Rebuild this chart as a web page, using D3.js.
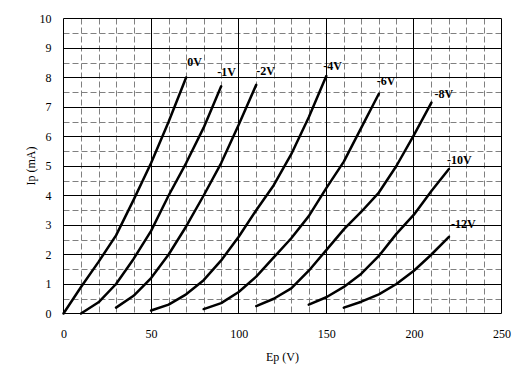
<!DOCTYPE html>
<html><head><meta charset="utf-8">
<script src="https://cdn.jsdelivr.net/npm/d3@7"></script>
<style>body{margin:0;background:#fff}svg{display:block}</style>
</head><body>
<script>
// Data
const xTicks = [0, 50, 100, 150, 200, 250];
const yTicks = [0,1,2,3,4,5,6,7,8,9,10];
const seriesNames = ["0V","-1V","-2V","-4V","-6V","-8V","-10V","-12V"];
const ep0  = [0,10,20,30,40,50,60,70];
const ip0  = [0,0.9,1.75,2.65,3.85,5.1,6.5,8.0];
const ep1  = [10,20,30,40,50,60,70,80,90];
const ip1  = [0,0.38,1.0,1.85,2.8,4.0,5.1,6.3,7.7];
const ep2  = [30,40,50,60,70,80,90,100,110];
const ip2  = [0.2,0.6,1.2,2.0,2.95,4.0,5.1,6.4,7.75];
const ep4  = [50,60,70,80,90,100,110,120,130,140,150];
const ip4  = [0.1,0.3,0.65,1.13,1.8,2.6,3.5,4.35,5.4,6.65,8.05];
const ep6  = [80,90,100,110,120,130,140,150,160,170,180];
const ip6  = [0.15,0.35,0.73,1.25,1.9,2.55,3.3,4.25,5.15,6.3,7.45];
const ep8  = [110,120,130,140,150,160,170,180,190,200,210];
const ip8  = [0.25,0.5,0.85,1.45,2.15,2.85,3.45,4.1,5.0,6.05,7.15];
const ep10 = [140,150,160,170,180,190,200,210,220];
const ip10 = [0.3,0.55,0.9,1.35,1.95,2.7,3.35,4.15,4.9];
const ep12 = [160,170,180,190,200,210,220];
const ip12 = [0.2,0.4,0.65,1.0,1.45,2.0,2.6];

const epSets = [ep0,ep1,ep2,ep4,ep6,ep8,ep10,ep12];
const ipSets = [ip0,ip1,ip2,ip4,ip6,ip8,ip10,ip12];
const series = seriesNames.map((n,i)=>({name:n, pts: epSets[i].map((e,j)=>[e, ipSets[i][j]])}));

const W = 523, H = 373;
const svg = d3.select("body").append("svg").attr("width", W).attr("height", H);
const x = d3.scaleLinear().domain([0,250]).range([63.5, 501.5]);
const y = d3.scaleLinear().domain([0,10]).range([313.5, 18.5]);

const font = "'Liberation Serif','Times New Roman',serif";

// minor dashed grid
const g = svg.append("g");
g.selectAll("line.vminor").data(d3.range(10,250,10).filter(v=>v%50!==0)).join("line")
  .attr("x1", d=>Math.round(x(d))+0.5).attr("x2", d=>Math.round(x(d))+0.5)
  .attr("y1", y(10)).attr("y2", y(0))
  .attr("stroke","#808080").attr("stroke-dasharray","6,3");
g.selectAll("line.hminor").data(d3.range(0.5,10,1)).join("line")
  .attr("y1", d=>Math.round(y(d))+0.5).attr("y2", d=>Math.round(y(d))+0.5)
  .attr("x1", x(0)).attr("x2", x(250))
  .attr("stroke","#808080").attr("stroke-dasharray","6,3");
// major solid grid
g.selectAll("line.vmajor").data(xTicks).join("line")
  .attr("x1", d=>Math.round(x(d)-0.5)+0.5).attr("x2", d=>Math.round(x(d)-0.5)+0.5)
  .attr("y1", y(10)).attr("y2", y(0)).attr("stroke","#000");
g.selectAll("line.hmajor").data(yTicks).join("line")
  .attr("y1", d=>Math.round(y(d)-0.5)+0.5).attr("y2", d=>Math.round(y(d)-0.5)+0.5)
  .attr("x1", x(0)).attr("x2", x(250)).attr("stroke","#000");

// axes (labels only)
const xAxis = svg.append("g").attr("transform", `translate(0,${y(0)})`)
  .call(d3.axisBottom(x).tickValues(xTicks).tickSize(0).tickPadding(16));
const yAxis = svg.append("g").attr("transform", `translate(${x(0)},0)`)
  .call(d3.axisLeft(y).tickValues(yTicks).tickSize(0).tickPadding(12));
[xAxis,yAxis].forEach(a=>{
  a.select(".domain").remove();
  a.selectAll("text").attr("font-family", font).attr("font-size", 12).attr("fill","#000");
});

// curves
const line = d3.line().x(d=>x(d[0])).y(d=>y(d[1]));
svg.append("g").selectAll("path").data(series).join("path")
  .attr("d", d=>line(d.pts)).attr("fill","none").attr("stroke","#000")
  .attr("stroke-width",2.5).attr("stroke-linejoin","round").attr("stroke-linecap","round");

// labels
const labelOff = [[1,-12],[-4,-10],[0,-10],[-3,-6],[-2,-9],[3,-5],[-2,-5],[2,-9]];
svg.append("g").selectAll("text").data(series).join("text")
  .attr("x", (d,i)=>x(d.pts[d.pts.length-1][0]) + labelOff[i][0])
  .attr("y", (d,i)=>y(d.pts[d.pts.length-1][1]) + labelOff[i][1])
  .attr("font-family", font).attr("font-size", 12).attr("font-weight","bold")
  .text(d=>d.name);

// axis titles
svg.append("text").attr("x", (x(0)+x(250))/2).attr("y", 361)
  .attr("text-anchor","middle").attr("font-family",font).attr("font-size",12).text("Ep (V)");
svg.append("text").attr("transform", `translate(35,${(y(0)+y(10))/2}) rotate(-90)`)
  .attr("text-anchor","middle").attr("font-family",font).attr("font-size",12).text("Ip (mA)");
</script>
</body></html>
